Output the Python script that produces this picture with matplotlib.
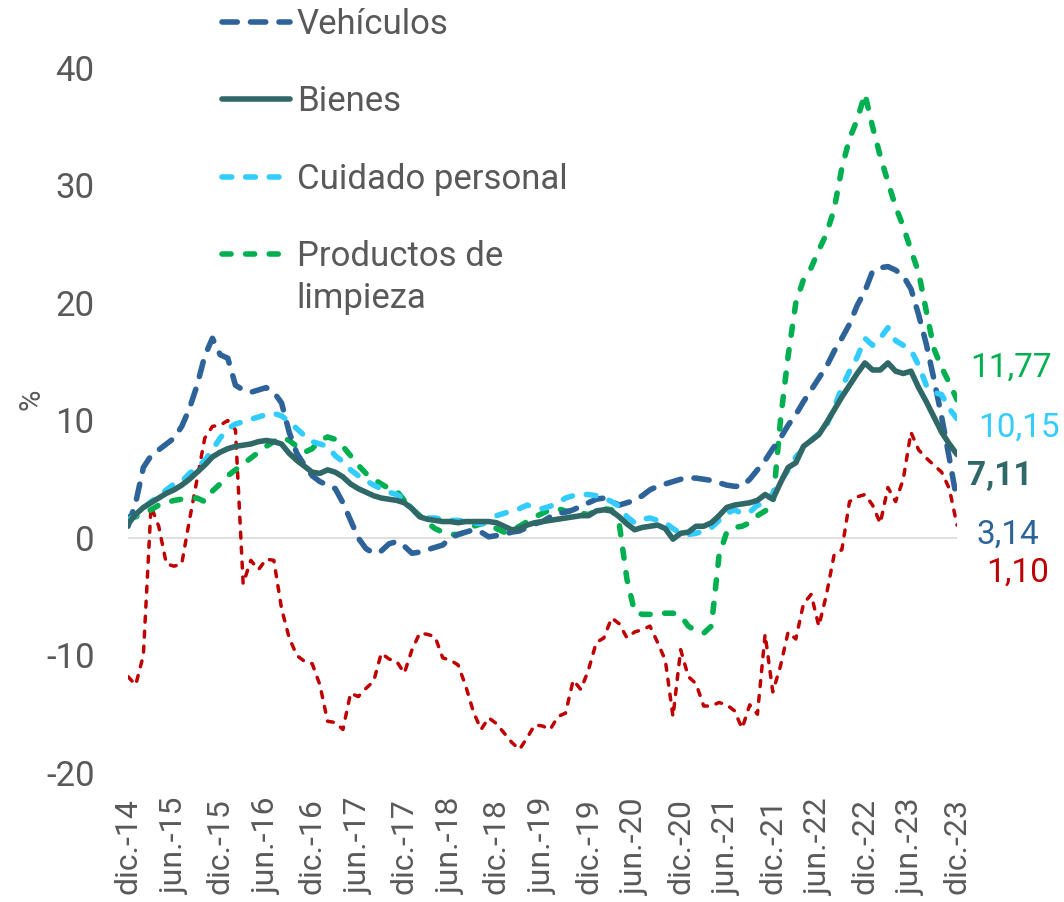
import matplotlib.pyplot as plt
import numpy as np

plt.rcParams['font.family'] = ['Roboto', 'DejaVu Sans']
plt.rcParams['axes.unicode_minus'] = False
plt.rcParams['lines.scale_dashes'] = False

# etiquetas del eje x (cada 6 meses, dic-14 a dic-23)
etiquetas_x = ['dic.-14', 'jun.-15', 'dic.-15', 'jun.-16', 'dic.-16', 'jun.-17', 'dic.-17',
               'jun.-18', 'dic.-18', 'jun.-19', 'dic.-19', 'jun.-20', 'dic.-20', 'jun.-21',
               'dic.-21', 'jun.-22', 'dic.-22', 'jun.-23', 'dic.-23']

# variacion anual (%), mensual desde dic-14
vehiculos = [1.0, 3.0, 6.0, 7.0, 7.5, 8.0, 8.5, 9.5, 11.0, 13.0, 15.5, 17.0, 15.6, 15.3, 13.0, 12.6,
             12.4, 12.6, 12.8, 12.4, 11.5, 9.0, 7.2, 6.2, 5.3, 4.8, 4.5, 4.2, 3.0, 1.5, 0.0, -0.9,
             -1.3, -1.1, -0.5, -0.3, -0.7, -1.3, -1.2, -1.0, -0.8, -0.6, 0.0, 0.3, 0.5, 0.7, 0.5,
             0.1, 0.2, 0.3, 0.5, 0.6, 0.9, 1.2, 1.4, 1.8, 2.1, 2.2, 2.4, 2.7, 3.0, 3.3, 3.4, 3.1,
             2.8, 3.0, 3.2, 3.6, 4.1, 4.4, 4.6, 4.8, 5.0, 5.1, 5.1, 5.0, 4.9, 4.7, 4.5, 4.4, 4.4,
             5.0, 5.8, 6.6, 7.6, 8.5, 9.6, 10.5, 11.6, 12.6, 13.6, 14.6, 15.9, 17.0, 18.2, 19.8,
             21.0, 22.7, 23.0, 23.1, 22.8, 22.3, 21.2, 19.0, 16.5, 13.5, 10.3, 6.8, 3.14]

bienes = [1.2, 2.0, 2.6, 3.0, 3.4, 3.8, 4.1, 4.5, 5.0, 5.6, 6.2, 6.9, 7.3, 7.6, 7.8, 7.9, 8.0, 8.2,
          8.3, 8.2, 8.0, 7.2, 6.6, 6.1, 5.6, 5.5, 5.8, 5.6, 5.2, 4.6, 4.2, 3.9, 3.6, 3.4, 3.3, 3.2,
          3.0, 2.5, 1.8, 1.6, 1.5, 1.4, 1.4, 1.3, 1.4, 1.4, 1.4, 1.4, 1.3, 1.0, 0.7, 0.8, 1.1, 1.3,
          1.4, 1.5, 1.6, 1.7, 1.8, 1.9, 1.9, 2.3, 2.4, 2.3, 1.8, 1.2, 0.7, 0.9, 1.0, 1.1, 0.8, -0.1,
          0.4, 0.5, 1.0, 1.0, 1.3, 1.9, 2.6, 2.8, 2.9, 3.0, 3.2, 3.7, 3.3, 4.7, 6.0, 6.4, 7.8, 8.3,
          8.8, 9.8, 10.9, 12.0, 13.0, 14.0, 14.9, 14.3, 14.3, 14.9, 14.2, 14.0, 14.2, 12.8, 11.6,
          10.3, 9.0, 8.0, 7.11]

cuidado = [1.5, 1.9, 2.5, 3.1, 3.5, 4.1, 4.6, 4.8, 5.5, 6.0, 6.6, 7.5, 8.5, 9.3, 9.7, 9.9, 10.1,
           10.3, 10.5, 10.6, 10.4, 9.9, 9.3, 8.7, 8.2, 8.0, 7.8, 7.0, 6.5, 5.8, 5.3, 4.9, 4.5, 4.2,
           3.9, 3.7, 3.3, 2.5, 1.8, 1.7, 1.7, 1.6, 1.5, 1.5, 1.4, 1.3, 1.2, 1.5, 1.9, 2.1, 2.3, 2.5,
           2.8, 2.6, 2.5, 2.7, 3.0, 3.4, 3.6, 3.7, 3.7, 3.6, 3.4, 3.1, 2.7, 1.8, 1.3, 1.6, 1.7, 1.5,
           1.3, 0.8, 0.4, 0.3, 0.4, 0.6, 0.9, 1.5, 2.1, 2.4, 2.1, 2.2, 2.8, 2.9, 3.8, 4.8, 5.8, 6.9,
           7.6, 8.3, 8.9, 9.6, 11.1, 12.8, 14.2, 15.4, 17.0, 16.4, 17.0, 17.9, 16.8, 16.4, 16.0,
           14.7, 13.0, 12.4, 12.2, 11.0, 10.15]

limpieza = [1.8, 1.8, 2.1, 2.4, 2.8, 3.0, 3.2, 3.3, 3.4, 3.4, 3.1, 4.0, 4.6, 5.3, 5.8, 6.3, 6.8,
            7.3, 7.8, 8.2, 8.6, 8.3, 7.8, 7.3, 7.6, 8.3, 8.6, 8.4, 7.8, 7.0, 6.2, 5.5, 5.0, 4.6,
            4.2, 4.0, 3.2, 2.5, 1.9, 1.3, 0.8, 0.5, 0.3, 0.3, 0.5, 1.0, 1.2, 1.3, 0.8, 0.5, 0.7,
            1.0, 1.4, 1.8, 2.1, 2.4, 2.5, 2.3, 2.2, 2.1, 2.0, 2.3, 2.5, 2.4, 1.2, -3.5, -6.3, -6.5,
            -6.5, -6.4, -6.4, -6.4, -6.6, -7.5, -7.9, -8.1, -7.5, -1.5, 0.5, 0.9, 1.0, 1.3, 1.9,
            2.3, 2.8, 10.0, 15.5, 20.0, 22.0, 23.0, 24.5, 25.9, 28.0, 31.5, 34.0, 35.6, 37.8, 35.0,
            32.5, 30.3, 28.2, 26.5, 24.5, 22.6, 19.3, 16.1, 14.5, 13.2, 11.77]

otros = [-11.8, -12.5, -10.0, 2.7, 1.0, -2.2, -2.4, -2.2, 1.5, 5.0, 8.5, 9.5, 9.6, 10.0, 9.2,
         -3.9, -1.9, -2.7, -1.8, -1.9, -6.0, -8.5, -10.0, -10.5, -10.7, -12.5, -15.6, -15.7,
         -16.3, -13.2, -13.5, -12.8, -12.2, -9.8, -10.3, -10.5, -11.5, -9.5, -8.1, -8.2, -8.4,
         -10.2, -10.4, -10.8, -12.6, -14.8, -16.3, -15.3, -15.8, -16.6, -17.4, -18.0, -17.0,
         -15.9, -16.0, -16.3, -15.2, -14.9, -12.1, -12.9, -11.2, -8.9, -8.5, -6.8, -7.3, -8.5,
         -8.0, -7.8, -7.5, -8.9, -10.4, -15.2, -9.5, -11.8, -12.4, -14.3, -14.3, -14.0, -14.2,
         -14.7, -16.2, -14.2, -15.0, -8.2, -13.1, -10.9, -8.0, -8.6, -5.6, -4.8, -7.5, -4.8,
         -1.4, -1.0, 3.1, 3.5, 3.7, 2.8, 1.25, 4.3, 3.1, 5.0, 9.0, 7.5, 6.8, 6.2, 5.6, 4.2, 1.10]

c_veh = '#2E6399'
c_bie = '#2F6867'
c_cui = '#33CCFF'
c_lim = '#00B050'
c_otr = '#C00000'
gris = '#595959'

x = np.arange(len(bienes))

fig = plt.figure(figsize=(10.64, 9.02), dpi=100)
ax = fig.add_axes([128 / 1064, 1 - 773 / 902, (957 - 128) / 1064, (773 - 68) / 902])

ax.axhline(0, color='#D9D9D9', lw=1.2, zorder=1)

l_otr, = ax.plot(x, otros, color=c_otr, lw=2.5, dashes=(4.3, 6.5), dash_capstyle='round', zorder=2)
l_lim, = ax.plot(x, limpieza, color=c_lim, lw=4.0, dashes=(6.5, 10.5), dash_capstyle='round', zorder=3)
l_veh, = ax.plot(x, vehiculos, color=c_veh, lw=4.0, dashes=(11, 9.5), dash_capstyle='round', zorder=4)
l_cui, = ax.plot(x, cuidado, color=c_cui, lw=4.0, dashes=(7, 10), dash_capstyle='round', zorder=5)
l_bie, = ax.plot(x, bienes, color=c_bie, lw=4.0, solid_capstyle='round', zorder=6)

ax.set_xlim(0, 108)
ax.set_ylim(-20, 40)
ax.set_yticks(np.arange(-20, 41, 10))
ax.set_xticks(np.arange(0, len(bienes), 6))
ax.set_xticklabels(etiquetas_x, rotation=90, va='top', ha='center')
ax.tick_params(axis='both', length=0, labelsize=25, labelcolor=gris)
ax.tick_params(axis='x', labelsize=23)
ax.tick_params(axis='y', pad=24)
ax.tick_params(axis='x', pad=18)
for s in ax.spines.values():
    s.set_visible(False)

ax.set_ylabel('%', fontsize=21, color=gris)
ax.yaxis.set_label_coords(-0.099, 0.53)

# valores finales
finales = [(limpieza, c_lim, 13, 32, 'normal'),
           (cuidado, c_cui, 21, -9, 'normal'),
           (bienes, c_bie, 10, -22, 'bold'),
           (vehiculos, c_veh, 20, -34, 'normal'),
           (otros, c_otr, 29, -48, 'normal')]
for serie, col, dx, dy, peso in finales:
    ax.annotate(f'{serie[-1]:.2f}'.replace('.', ','), xy=(x[-1], serie[-1]),
                xytext=(dx, dy), textcoords='offset pixels', ha='left', va='center',
                fontsize=24, color=col, fontweight=peso, annotation_clip=False)

leg = fig.legend([l_veh, l_bie, l_cui, l_lim],
                 ['Vehículos', 'Bienes', 'Cuidado personal', 'Productos de'],
                 loc='upper left', bbox_to_anchor=(222 / 1064, 1 - 8 / 902), frameon=False,
                 fontsize=25, labelcolor=gris, handlelength=1.95, handletextpad=0.2,
                 labelspacing=1.28, borderpad=0, borderaxespad=0)

fig.canvas.draw()
r = fig.canvas.get_renderer()
bb = leg.get_texts()[-1].get_window_extent(r)
fig.text(bb.x0 / 1064, (bb.y0 - 42) / 902, 'limpieza', fontsize=25, color=gris,
         ha='left', va='bottom')

fig.savefig('out.png', dpi=100)
